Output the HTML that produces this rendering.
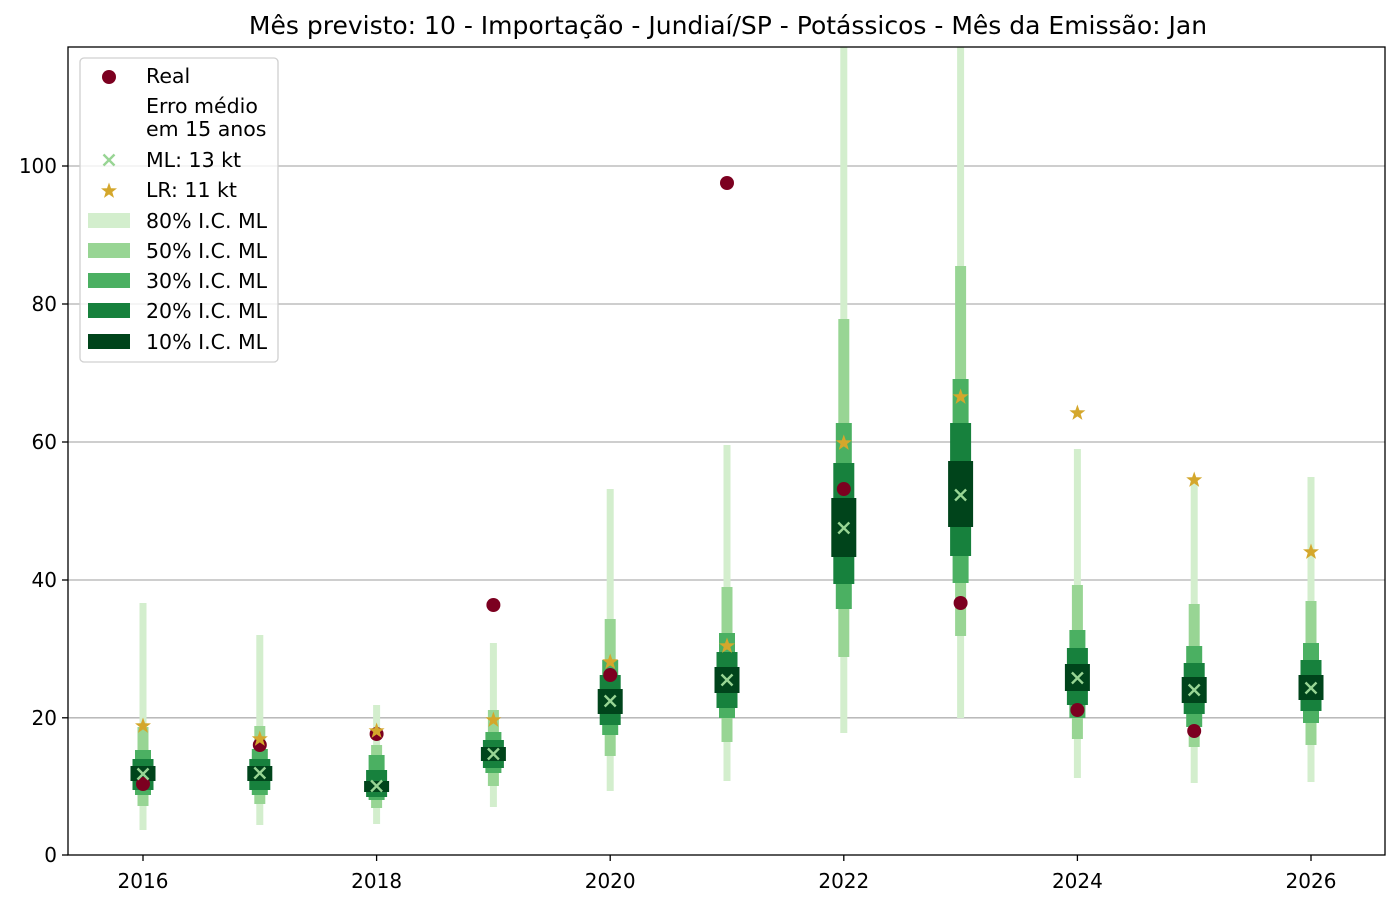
<!DOCTYPE html>
<html><head><meta charset="utf-8"><style>body{margin:0;background:#fff}svg{display:block;font-family:"DejaVu Sans","Liberation Sans",sans-serif}</style></head><body>
<svg width="1400" height="906" viewBox="0 0 1400 906" xmlns="http://www.w3.org/2000/svg">
<defs>
<polygon id="st" points="0,-8.5 2,-2.8 8,-2.6 3.3,1 5,6.9 0,3.4 -5,6.9 -3.3,1 -8,-2.6 -2,-2.8" fill="#d4a72c"/>
<g id="xm" stroke="#98d594" stroke-width="2.4"><line x1="-5.5" y1="-5.5" x2="5.5" y2="5.5"/><line x1="-5.5" y1="5.5" x2="5.5" y2="-5.5"/></g>
</defs>
<rect width="1400" height="906" fill="#fff"/>
<text x="728" y="34" font-size="25" text-anchor="middle">Mês previsto: 10 - Importação - Jundiaí/SP - Potássicos - Mês da Emissão: Jan</text>
<g stroke="#b0b0b0" stroke-width="1.3">
<line x1="68" x2="1385" y1="717.8" y2="717.8"/><line x1="68" x2="1385" y1="580" y2="580"/><line x1="68" x2="1385" y1="442" y2="442"/><line x1="68" x2="1385" y1="304" y2="304"/><line x1="68" x2="1385" y1="166" y2="166"/>
</g>
<g id="bars">
<rect x="139.5" y="603" width="7" height="227" fill="#d3eecd"/><rect x="137.5" y="727" width="11" height="79" fill="#98d594"/><rect x="135" y="750" width="16" height="45" fill="#4bb062"/><rect x="132.5" y="759" width="21" height="31" fill="#17813d"/><rect x="130.5" y="766" width="25" height="15" fill="#00441b"/>
<rect x="256.3" y="635" width="7" height="190" fill="#d3eecd"/><rect x="254.3" y="726" width="11" height="78" fill="#98d594"/><rect x="251.8" y="749" width="16" height="46" fill="#4bb062"/><rect x="249.3" y="759" width="21" height="31" fill="#17813d"/><rect x="247.3" y="766" width="25" height="15" fill="#00441b"/>
<rect x="373.1" y="705" width="7" height="119" fill="#d3eecd"/><rect x="371.1" y="745" width="11" height="63" fill="#98d594"/><rect x="368.6" y="755" width="16" height="45" fill="#4bb062"/><rect x="366.1" y="770" width="21" height="27" fill="#17813d"/><rect x="364.1" y="781" width="25" height="11" fill="#00441b"/>
<rect x="489.9" y="643" width="7" height="164" fill="#d3eecd"/><rect x="487.9" y="710" width="11" height="76" fill="#98d594"/><rect x="485.4" y="732" width="16" height="41" fill="#4bb062"/><rect x="482.9" y="740" width="21" height="28" fill="#17813d"/><rect x="480.9" y="747" width="25" height="14" fill="#00441b"/>
<rect x="606.7" y="489" width="7" height="302" fill="#d3eecd"/><rect x="604.7" y="619" width="11" height="137" fill="#98d594"/><rect x="602.2" y="660" width="16" height="75" fill="#4bb062"/><rect x="599.7" y="675" width="21" height="50" fill="#17813d"/><rect x="597.7" y="689" width="25" height="25" fill="#00441b"/>
<rect x="723.5" y="445" width="7" height="336" fill="#d3eecd"/><rect x="721.5" y="587" width="11" height="155" fill="#98d594"/><rect x="719" y="633" width="16" height="85" fill="#4bb062"/><rect x="716.5" y="652" width="21" height="56" fill="#17813d"/><rect x="714.5" y="667" width="25" height="26" fill="#00441b"/>
<rect x="840.3" y="47" width="7" height="686" fill="#d3eecd"/><rect x="838.3" y="319" width="11" height="338" fill="#98d594"/><rect x="835.8" y="423" width="16" height="186" fill="#4bb062"/><rect x="833.3" y="463" width="21" height="121" fill="#17813d"/><rect x="831.3" y="498" width="25" height="59" fill="#00441b"/>
<rect x="957.1" y="47" width="7" height="671" fill="#d3eecd"/><rect x="955.1" y="266" width="11" height="370" fill="#98d594"/><rect x="952.6" y="379" width="16" height="204" fill="#4bb062"/><rect x="950.1" y="423" width="21" height="133" fill="#17813d"/><rect x="948.1" y="461" width="25" height="66" fill="#00441b"/>
<rect x="1073.9" y="449" width="7" height="329" fill="#d3eecd"/><rect x="1071.9" y="585" width="11" height="154" fill="#98d594"/><rect x="1069.4" y="630" width="16" height="88" fill="#4bb062"/><rect x="1066.9" y="648" width="21" height="57" fill="#17813d"/><rect x="1064.9" y="664" width="25" height="27" fill="#00441b"/>
<rect x="1190.7" y="480" width="7" height="303" fill="#d3eecd"/><rect x="1188.7" y="604" width="11" height="143" fill="#98d594"/><rect x="1186.2" y="646" width="16" height="81" fill="#4bb062"/><rect x="1183.7" y="663" width="21" height="51" fill="#17813d"/><rect x="1181.7" y="677" width="25" height="26" fill="#00441b"/>
<rect x="1307.5" y="477" width="7" height="305" fill="#d3eecd"/><rect x="1305.5" y="601" width="11" height="144" fill="#98d594"/><rect x="1303" y="643" width="16" height="80" fill="#4bb062"/><rect x="1300.5" y="660" width="21" height="51" fill="#17813d"/><rect x="1298.5" y="675" width="25" height="25" fill="#00441b"/>
</g>
<g fill="#7c0020">
<circle cx="143" cy="784" r="7"/><circle cx="259.8" cy="745" r="7"/><circle cx="376.6" cy="734" r="7"/><circle cx="493.4" cy="605" r="7"/><circle cx="610.2" cy="675" r="7"/><circle cx="727" cy="183" r="7"/><circle cx="843.8" cy="489" r="7"/><circle cx="960.6" cy="603" r="7"/><circle cx="1077.4" cy="710" r="7"/><circle cx="1194.2" cy="731" r="7"/>
</g>
<use href="#xm" x="143" y="774"/><use href="#xm" x="259.8" y="773"/><use href="#xm" x="376.6" y="786"/><use href="#xm" x="493.4" y="754"/><use href="#xm" x="610.2" y="701"/><use href="#xm" x="727" y="680"/><use href="#xm" x="843.8" y="528"/><use href="#xm" x="960.6" y="495"/><use href="#xm" x="1077.4" y="678"/><use href="#xm" x="1194.2" y="690"/><use href="#xm" x="1311" y="688"/>
<use href="#st" x="143" y="726"/><use href="#st" x="259.8" y="739"/><use href="#st" x="376.6" y="731"/><use href="#st" x="493.4" y="720"/><use href="#st" x="610.2" y="662"/><use href="#st" x="727" y="646"/><use href="#st" x="843.8" y="443"/><use href="#st" x="960.6" y="397"/><use href="#st" x="1077.4" y="413"/><use href="#st" x="1194.2" y="480"/><use href="#st" x="1311" y="552"/>
<rect x="68" y="47" width="1317" height="808" fill="none" stroke="#000" stroke-width="1.3"/>
<g stroke="#000" stroke-width="1.3">
<line x1="68" x2="62" y1="855" y2="855"/><line x1="68" x2="62" y1="717.8" y2="717.8"/><line x1="68" x2="62" y1="580" y2="580"/><line x1="68" x2="62" y1="442" y2="442"/><line x1="68" x2="62" y1="304" y2="304"/><line x1="68" x2="62" y1="166" y2="166"/>
<line x1="143" x2="143" y1="855" y2="861"/><line x1="376.6" x2="376.6" y1="855" y2="861"/><line x1="610.2" x2="610.2" y1="855" y2="861"/><line x1="843.8" x2="843.8" y1="855" y2="861"/><line x1="1077.4" x2="1077.4" y1="855" y2="861"/><line x1="1311" x2="1311" y1="855" y2="861"/>
</g>
<g font-size="20" text-anchor="end">
<text x="57" y="862">0</text><text x="57" y="725">20</text><text x="57" y="587">40</text><text x="57" y="449">60</text><text x="57" y="311">80</text><text x="57" y="173">100</text>
</g>
<g font-size="20" text-anchor="middle">
<text x="143" y="888">2016</text><text x="376.6" y="888">2018</text><text x="610.2" y="888">2020</text><text x="843.8" y="888">2022</text><text x="1077.4" y="888">2024</text><text x="1311" y="888">2026</text>
</g>
<rect x="80" y="58" width="198" height="304" rx="4" fill="#fff" fill-opacity="0.8" stroke="#d0d0d0" stroke-width="1.3"/>
<g font-size="20.5">
<circle cx="109" cy="77" r="7" fill="#7c0020"/><text x="146" y="83">Real</text>
<text x="146" y="113">Erro médio</text><text x="146" y="136">em 15 anos</text>
<use href="#xm" x="109" y="160"/><text x="146" y="167">ML: 13 kt</text>
<use href="#st" x="109" y="191"/><text x="146" y="197">LR: 11 kt</text>
<rect x="88" y="213" width="42" height="15" fill="#d3eecd"/><text x="146" y="228">80% I.C. ML</text>
<rect x="88" y="243" width="42" height="15" fill="#98d594"/><text x="146" y="258">50% I.C. ML</text>
<rect x="88" y="273" width="42" height="15" fill="#4bb062"/><text x="146" y="288">30% I.C. ML</text>
<rect x="88" y="303" width="42" height="15" fill="#17813d"/><text x="146" y="318">20% I.C. ML</text>
<rect x="88" y="334" width="42" height="15" fill="#00441b"/><text x="146" y="349">10% I.C. ML</text>
</g>
</svg>
</body></html>
